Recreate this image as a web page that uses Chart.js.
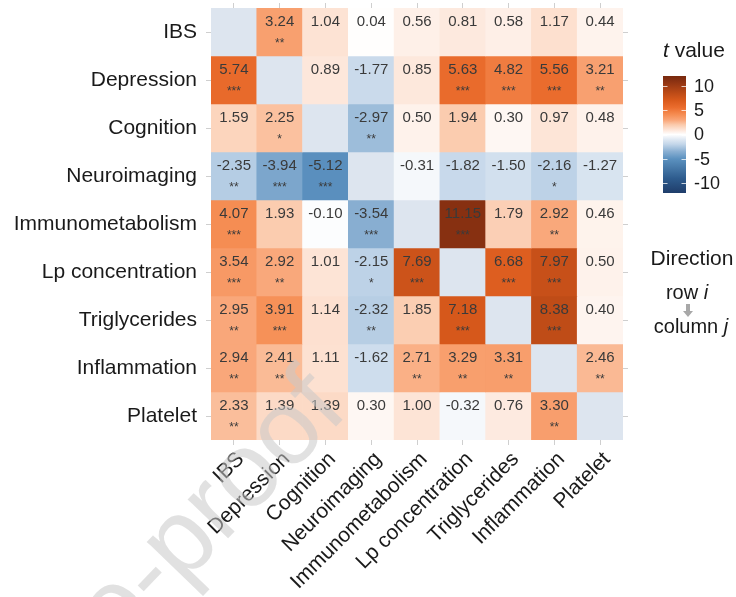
<!DOCTYPE html>
<html>
<head>
<meta charset="utf-8">
<script src="https://cdn.jsdelivr.net/npm/chart.js@4.4.1/dist/chart.umd.min.js"></script>
<style>
  html, body { margin: 0; padding: 0; background: #ffffff; }
  #wrap { width: 736px; height: 597px; position: relative; }
</style>
</head>
<body>
<div id="wrap"><canvas id="heat" width="736" height="597"></canvas></div>
<script>
// Row i / column j variables of the directional t-value matrix
const variables = [
  "IBS", "Depression", "Cognition", "Neuroimaging", "Immunometabolism",
  "Lp concentration", "Triglycerides", "Inflammation", "Platelet"
];

// t values, row i -> column j (diagonal not estimated)
const tIBS          = [null, 3.24, 1.04, 0.04, 0.56, 0.81, 0.58, 1.17, 0.44];
const tDepression   = [5.74, null, 0.89, -1.77, 0.85, 5.63, 4.82, 5.56, 3.21];
const tCognition    = [1.59, 2.25, null, -2.97, 0.50, 1.94, 0.30, 0.97, 0.48];
const tNeuroimaging = [-2.35, -3.94, -5.12, null, -0.31, -1.82, -1.50, -2.16, -1.27];
const tImmunometab  = [4.07, 1.93, -0.10, -3.54, null, 11.15, 1.79, 2.92, 0.46];
const tLpConc       = [3.54, 2.92, 1.01, -2.15, 7.69, null, 6.68, 7.97, 0.50];
const tTriglyc      = [2.95, 3.91, 1.14, -2.32, 1.85, 7.18, null, 8.38, 0.40];
const tInflammation = [2.94, 2.41, 1.11, -1.62, 2.71, 3.29, 3.31, null, 2.46];
const tPlatelet     = [2.33, 1.39, 1.39, 0.30, 1.00, -0.32, 0.76, 3.30, null];
const tValues = [tIBS, tDepression, tCognition, tNeuroimaging, tImmunometab,
                 tLpConc, tTriglyc, tInflammation, tPlatelet];

// significance marks for each cell
const sIBS          = ["", "**", "", "", "", "", "", "", ""];
const sDepression   = ["***", "", "", "", "", "***", "***", "***", "**"];
const sCognition    = ["", "*", "", "**", "", "", "", "", ""];
const sNeuroimaging = ["**", "***", "***", "", "", "", "", "*", ""];
const sImmunometab  = ["***", "", "", "***", "", "***", "", "**", ""];
const sLpConc       = ["***", "**", "", "*", "***", "", "***", "***", ""];
const sTriglyc      = ["**", "***", "", "**", "", "***", "", "***", ""];
const sInflammation = ["**", "**", "", "", "**", "**", "**", "", "**"];
const sPlatelet     = ["**", "", "", "", "", "", "", "**", ""];
const stars = [sIBS, sDepression, sCognition, sNeuroimaging, sImmunometab,
               sLpConc, sTriglyc, sInflammation, sPlatelet];

// colour bar breaks and limits
const legendBreaks = [10, 5, 0, -5, -10];
const legendLimits = [-12, 12];

const FONT = '"Liberation Sans", Arial, Helvetica, sans-serif';
const NA_COLOR = '#dde5ef';
const colorStops = [
  [-12, '#1f3d6a'], [-9, '#2e5c8e'], [-5, '#5b91bf'], [-3.5, '#89afd2'],
  [-2, '#c3d6e9'], [-1, '#e0e9f3'], [0, '#ffffff'], [1, '#fde4d6'],
  [2, '#fbcaac'], [3, '#f9a577'], [4, '#f68f55'], [5.5, '#eb6d2e'],
  [7, '#d95a1c'], [8.5, '#bd4b17'], [11, '#8a3112'], [12, '#772a0e']
];

function hexToRgb(h) {
  const n = parseInt(h.slice(1), 16);
  return [(n >> 16) & 255, (n >> 8) & 255, n & 255];
}
function fillFor(v) {
  if (v <= colorStops[0][0]) return colorStops[0][1];
  for (let k = 1; k < colorStops.length; k++) {
    const [v1, c1] = colorStops[k];
    if (v <= v1) {
      const [v0, c0] = colorStops[k - 1];
      const t = (v - v0) / (v1 - v0);
      const a = hexToRgb(c0), b = hexToRgb(c1);
      const m = a.map((x, i) => Math.round(x + (b[i] - x) * t));
      return `rgb(${m[0]},${m[1]},${m[2]})`;
    }
  }
  return colorStops[colorStops.length - 1][1];
}

// one stacked dataset per row; each cell is one unit tall
const datasets = variables.map((rowName, i) => ({
  label: rowName,
  data: variables.map(() => 1),
  backgroundColor: ctx => {
    const v = tValues[i][ctx.dataIndex];
    return v === null ? NA_COLOR : fillFor(v);
  },
  borderWidth: 0,
  barPercentage: 1,
  categoryPercentage: 1
}));

const tickGrid = {
  display: true, drawOnChartArea: false, drawTicks: true,
  tickLength: 5, color: '#cfcfcf', lineWidth: 1, offset: false
};
const rowTicks = scale => { scale.ticks = variables.map((_, i) => ({ value: i + 0.5 })); };
const noPad = s => { s.paddingTop = 0; s.paddingBottom = 0; s.paddingLeft = 0; s.paddingRight = 0; };

// value text and stars inside each cell
const cellLabels = {
  id: 'cellLabels',
  afterDatasetsDraw(chart) {
    const ctx = chart.ctx;
    ctx.save();
    ctx.textAlign = 'center';
    ctx.textBaseline = 'middle';
    chart.data.datasets.forEach((ds, i) => {
      chart.getDatasetMeta(i).data.forEach((bar, j) => {
        const v = tValues[i][j];
        if (v === null) return;
        const cy = (bar.y + bar.base) / 2;
        ctx.fillStyle = '#3a3a3a';
        ctx.font = `15px ${FONT}`;
        ctx.fillText(v.toFixed(2), bar.x, cy - 10);
        if (stars[i][j]) {
          ctx.font = `12px ${FONT}`;
          ctx.fillText(stars[i][j], bar.x, cy + 12);
        }
      });
    });
    ctx.restore();
  }
};

// gradient colour bar and the direction note on the right
const sideLegend = {
  id: 'sideLegend',
  afterDraw(chart) {
    const ctx = chart.ctx;
    const area = chart.chartArea;
    const x0 = area.right + 40, x1 = x0 + 23;
    const y0 = 76, y1 = 193;
    const yOf = v => y0 + (legendLimits[1] - v) / (legendLimits[1] - legendLimits[0]) * (y1 - y0);
    ctx.save();
    // title
    ctx.fillStyle = '#1a1a1a';
    ctx.textBaseline = 'alphabetic';
    ctx.textAlign = 'left';
    ctx.font = `italic 21px ${FONT}`;
    ctx.fillText('t', x0, 57);
    const tw = ctx.measureText('t').width;
    ctx.font = `21px ${FONT}`;
    ctx.fillText(' value', x0 + tw, 57);
    // bar
    const g = ctx.createLinearGradient(0, y0, 0, y1);
    colorStops.forEach(([v, c]) => {
      g.addColorStop((legendLimits[1] - v) / (legendLimits[1] - legendLimits[0]), c);
    });
    ctx.fillStyle = g;
    ctx.fillRect(x0, y0, x1 - x0, y1 - y0);
    ctx.strokeStyle = 'rgba(255,255,255,0.75)';
    ctx.lineWidth = 1;
    ctx.font = `18px ${FONT}`;
    ctx.fillStyle = '#1a1a1a';
    ctx.textBaseline = 'middle';
    legendBreaks.forEach(b => {
      const y = Math.round(yOf(b)) + 0.5;
      ctx.beginPath();
      ctx.moveTo(x0, y); ctx.lineTo(x0 + 4.5, y);
      ctx.moveTo(x1 - 4.5, y); ctx.lineTo(x1, y);
      ctx.stroke();
      ctx.fillText(String(b), x1 + 8, yOf(b) + 1);
    });
    // direction note
    ctx.textBaseline = 'alphabetic';
    ctx.textAlign = 'center';
    ctx.font = `21px ${FONT}`;
    ctx.fillText('Direction', 692, 265);
    const mixed = (plain, ital, cx, y) => {
      ctx.font = `20px ${FONT}`;
      const w1 = ctx.measureText(plain).width;
      ctx.font = `italic 20px ${FONT}`;
      const w2 = ctx.measureText(ital).width;
      const left = cx - (w1 + w2) / 2;
      ctx.textAlign = 'left';
      ctx.font = `20px ${FONT}`;
      ctx.fillText(plain, left, y);
      ctx.font = `italic 20px ${FONT}`;
      ctx.fillText(ital, left + w1, y);
    };
    mixed('row ', 'i', 687, 299);
    mixed('column ', 'j', 691, 333);
    // small grey arrow
    ctx.fillStyle = '#a8a8a8';
    ctx.beginPath();
    ctx.moveTo(686, 304); ctx.lineTo(690, 304); ctx.lineTo(690, 311);
    ctx.lineTo(693, 311); ctx.lineTo(688, 317); ctx.lineTo(683, 311);
    ctx.lineTo(686, 311); ctx.closePath();
    ctx.fill();
    ctx.restore();
  }
};

// faint diagonal proof watermark over the figure
const watermark = {
  id: 'watermark',
  afterDraw(chart) {
    const ctx = chart.ctx;
    ctx.save();
    ctx.translate(350, 412);
    ctx.rotate(-46 * Math.PI / 180);
    ctx.font = `106px ${FONT}`;
    ctx.textAlign = 'right';
    ctx.textBaseline = 'alphabetic';
    ctx.fillStyle = 'rgba(200,200,200,0.55)';
    ctx.fillText('Journal Pre-proof', 0, 0);
    ctx.restore();
  }
};

new Chart(document.getElementById('heat'), {
  type: 'bar',
  data: { labels: variables, datasets },
  options: {
    responsive: false,
    animation: false,
    events: [],
    layout: { padding: 0 },
    plugins: { legend: { display: false }, tooltip: { enabled: false } },
    scales: {
      x: {
        type: 'category', position: 'bottom', stacked: true, offset: true,
        grid: tickGrid, border: { display: false },
        ticks: {
          autoSkip: false, minRotation: 45, maxRotation: 45, padding: 2, labelOffset: 7,
          color: '#1a1a1a', font: { family: FONT, size: 21 }
        },
        afterFit: s => { s.height = 157; noPad(s); }
      },
      xTop: {
        type: 'category', position: 'top', offset: true,
        grid: tickGrid, border: { display: false },
        ticks: { display: false },
        afterFit: s => { s.height = 8; noPad(s); }
      },
      y: {
        type: 'linear', position: 'left', stacked: true, reverse: true, min: 0, max: 9,
        grid: tickGrid, border: { display: false },
        afterBuildTicks: rowTicks,
        ticks: {
          padding: 9, color: '#1a1a1a', font: { family: FONT, size: 21 },
          callback: (v, i) => variables[i]
        },
        afterFit: s => { s.width = 211; noPad(s); }
      },
      yRight: {
        type: 'linear', position: 'right', reverse: true, min: 0, max: 9,
        grid: tickGrid, border: { display: false },
        afterBuildTicks: rowTicks,
        ticks: { display: false },
        afterFit: s => { s.width = 113; noPad(s); }
      }
    }
  },
  plugins: [cellLabels, sideLegend, watermark]
});
</script>
</body>
</html>
